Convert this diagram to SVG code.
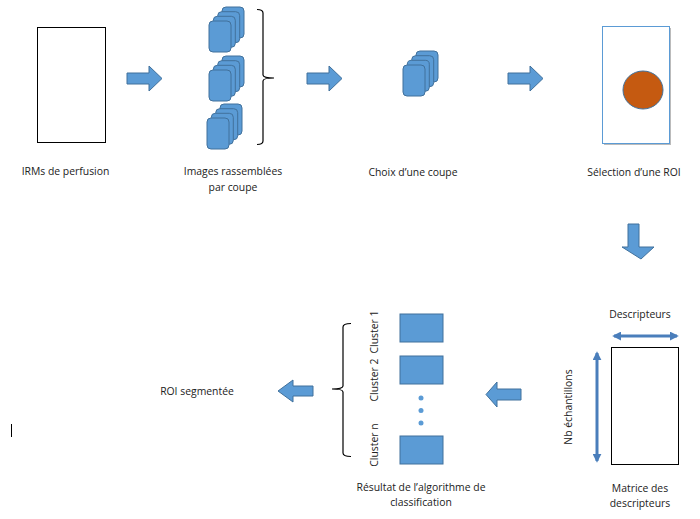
<svg xmlns="http://www.w3.org/2000/svg" width="700" height="519" viewBox="0 0 700 519">
<style>
.t{font-family:"Open Sans","Liberation Sans",sans-serif;font-size:10.4px;fill:#222}
.card{fill:#5B9BD5;stroke:#41719C;stroke-width:1}
.arr{fill:#5B9BD5;stroke:#41719C;stroke-width:1}
.frame{fill:#fff;stroke:#000;stroke-width:1}
.brace{fill:none;stroke:#000;stroke-width:1.2}
.dbl{stroke:#4A7EBB;stroke-width:3;fill:none}
</style>
<defs>
<marker id="ah" viewBox="0 0 10 10" refX="8" refY="5" markerWidth="3" markerHeight="3" orient="auto-start-reverse" markerUnits="strokeWidth">
<path d="M0,0 L10,5 L0,10 Z" fill="#4A7EBB"/>
</marker>
<g id="stack">
<rect class="card" x="13" y="-14" width="22" height="31" rx="4"/>
<rect class="card" x="8.7" y="-9.3" width="22" height="31" rx="4"/>
<rect class="card" x="4.3" y="-4.7" width="22" height="31" rx="4"/>
<rect class="card" x="0" y="0" width="22" height="31" rx="4"/>
</g>
</defs>
<rect width="700" height="519" fill="#fff"/>

<g id="irm">
<rect class="frame" x="37.5" y="27.5" width="68" height="115"/>
<text class="t" x="65.5" y="175" text-anchor="middle">IRMs de perfusion</text>
</g>

<g id="images">
<use href="#stack" x="209" y="21"/>
<use href="#stack" x="209" y="70"/>
<use href="#stack" x="207" y="118"/>
<path class="brace" d="M257,9.5 Q263,9.5 263,13 V75 Q263,78 274,78 Q263,78 263,81 V141 Q263,144.5 257,144.5"/>
<text class="t" x="233" y="175" text-anchor="middle">Images rassemblées</text>
<text class="t" x="233" y="191" text-anchor="middle">par coupe</text>
</g>

<g id="choix">
<use href="#stack" x="403" y="65"/>
<text class="t" x="413" y="176" text-anchor="middle">Choix d’une coupe</text>
</g>

<g id="roi">
<rect x="604" y="28" width="67" height="117" fill="#bbb"/>
<rect x="602.5" y="26.5" width="67" height="117" fill="#fff" stroke="#5B9BD5" stroke-width="1"/>
<ellipse cx="643" cy="90" rx="20" ry="19" fill="#C55A11" stroke="#41719C" stroke-width="1"/>
<text class="t" x="634" y="176" text-anchor="middle">Sélection d’une ROI</text>
</g>

<g id="matrice">
<text class="t" x="640" y="318" text-anchor="middle">Descripteurs</text>
<rect class="frame" x="611.5" y="347.5" width="67" height="117"/>
<text class="t" transform="translate(572,407) rotate(-90)" text-anchor="middle">Nb échantillons</text>
<text class="t" x="640" y="492" text-anchor="middle">Matrice des</text>
<text class="t" x="640" y="507" text-anchor="middle">descripteurs</text>
</g>

<g id="resultat">
<path class="brace" d="M351,323.5 Q343,323.5 343,327 V386 Q343,389 332,389 Q343,389 343,392 V453 Q343,456.5 351,456.5"/>
<rect class="card" x="400" y="314" width="43" height="28"/>
<rect class="card" x="400" y="356" width="43" height="28"/>
<rect class="card" x="400" y="436" width="43" height="28"/>
<circle cx="421" cy="398" r="2.5" fill="#5B9BD5"/>
<circle cx="421" cy="410.5" r="2.5" fill="#5B9BD5"/>
<circle cx="421" cy="423" r="2.5" fill="#5B9BD5"/>
<text class="t" transform="translate(378,332) rotate(-90)" text-anchor="middle">Cluster 1</text>
<text class="t" transform="translate(378,380) rotate(-90)" text-anchor="middle">Cluster 2</text>
<text class="t" transform="translate(378,445) rotate(-90)" text-anchor="middle">Cluster n</text>
<text class="t" x="421" y="491" text-anchor="middle">Résultat de l’algorithme de</text>
<text class="t" x="421" y="506" text-anchor="middle">classification</text>
</g>

<g id="segmentee">
<text class="t" x="197" y="395" text-anchor="middle">ROI segmentée</text>
</g>

<g id="connectors">
<path class="arr" d="M127,73 H149 V66 L162,78.5 L149,91 V84 H127 Z"/>
<path class="arr" d="M307,73 H329 V66 L342,78.5 L329,91 V84 H307 Z"/>
<path class="arr" d="M508,73 H530 V66 L543,78.5 L530,91 V84 H508 Z"/>
<path class="arr" d="M628,224 H639 V247 H654 L641,259 L622,247 H628 Z"/>
<path class="arr" d="M521,389 H497 V382 L486,394.5 L497,407 V400 H521 Z"/>
<path class="arr" d="M313,386 H293 V380 L278,391 L293,402 V396 H313 Z"/>
<line class="dbl" x1="614" y1="336" x2="677" y2="336" marker-start="url(#ah)" marker-end="url(#ah)"/>
<line class="dbl" x1="597" y1="353" x2="597" y2="461" marker-start="url(#ah)" marker-end="url(#ah)"/>
</g>

<line x1="11.5" y1="424" x2="11.5" y2="437" stroke="#000" stroke-width="1"/>
</svg>
